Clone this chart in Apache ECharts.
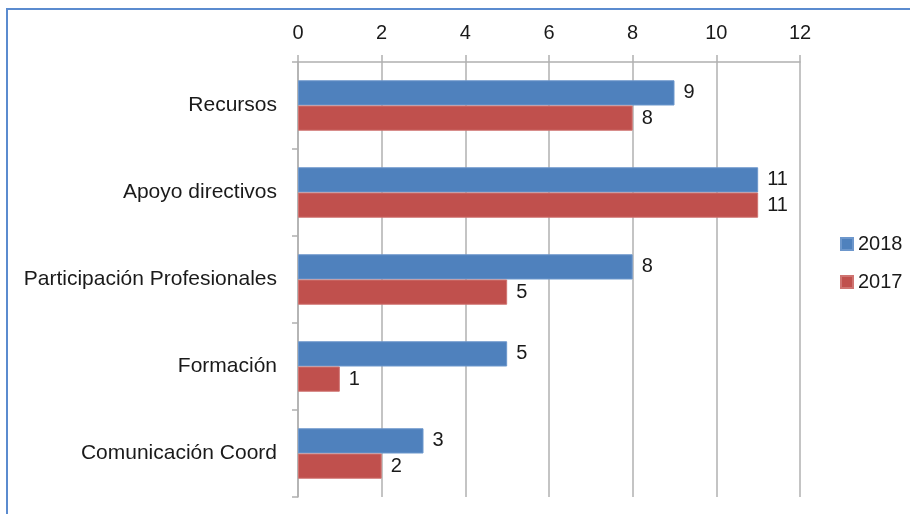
<!DOCTYPE html>
<html>
<head>
<meta charset="utf-8">
<script src="https://cdn.jsdelivr.net/npm/echarts@6/dist/echarts.min.js"></script>
<style>
  html, body { margin: 0; padding: 0; background: #fff; }
  #chart { width: 910px; height: 514px; }
</style>
</head>
<body>
<div id="chart"></div>
<script>
// Categories, top to bottom
const categories = ['Recursos', 'Apoyo directivos', 'Participación Profesionales', 'Formación', 'Comunicación Coord'];
// Values per year
const values2018 = [9, 11, 8, 5, 3];
const values2017 = [8, 11, 5, 1, 2];
const seriesNames = ['2018', '2017'];
// Value axis range
const axisMin = 0;
const axisMax = 12;
const axisStep = 2;

const font = '"Liberation Sans", Arial, sans-serif';
const gridColor = '#b0b0b0';

const chart = echarts.init(document.getElementById('chart'), null, { renderer: 'canvas' });

const labelStyle = {
  show: true,
  position: 'right',
  distance: 9,
  color: '#1a1a1a',
  fontFamily: font,
  fontSize: 20
};

chart.setOption({
  animation: false,
  backgroundColor: '#ffffff',
  grid: { left: 298, right: 110, top: 62, bottom: 17, containLabel: false },
  legend: {
    orient: 'vertical',
    left: 835,
    top: 229,
    itemWidth: 12,
    itemHeight: 12,
    itemGap: 18,
    icon: 'rect',
    textStyle: { fontFamily: font, fontSize: 20, color: '#1a1a1a', padding: [0, 0, 0, 0] },
    data: seriesNames
  },
  xAxis: {
    type: 'value',
    position: 'top',
    min: axisMin,
    max: axisMax,
    interval: axisStep,
    axisLine: { show: true, lineStyle: { color: gridColor, width: 1.5 } },
    axisTick: { show: true, length: 7, lineStyle: { color: gridColor, width: 1.5 } },
    axisLabel: { margin: 19, fontFamily: font, fontSize: 20, color: '#1a1a1a' },
    splitLine: { show: true, lineStyle: { color: gridColor, width: 1.5 } }
  },
  yAxis: {
    type: 'category',
    inverse: true,
    data: categories,
    axisLine: { show: true, lineStyle: { color: gridColor, width: 1.5 } },
    axisTick: { show: true, length: 6, lineStyle: { color: gridColor, width: 1.5 } },
    axisLabel: { margin: 21, fontFamily: font, fontSize: 21, color: '#1a1a1a' }
  },
  series: [
    {
      name: seriesNames[0],
      type: 'bar',
      data: values2018,
      barGap: '0%',
      barCategoryGap: '42%',
      itemStyle: { color: '#4F81BD', borderColor: '#6d97cc', borderWidth: 1 },
      label: labelStyle
    },
    {
      name: seriesNames[1],
      type: 'bar',
      data: values2017,
      barGap: '0%',
      barCategoryGap: '42%',
      itemStyle: { color: '#C0504D', borderColor: '#cf7471', borderWidth: 1 },
      label: labelStyle
    }
  ],
  graphic: [
    {
      type: 'polyline',
      silent: true,
      shape: { points: [[7, 514], [7, 9], [910, 9]] },
      style: { stroke: '#5b8bcf', lineWidth: 2, fill: null }
    }
  ]
});
</script>
</body>
</html>
